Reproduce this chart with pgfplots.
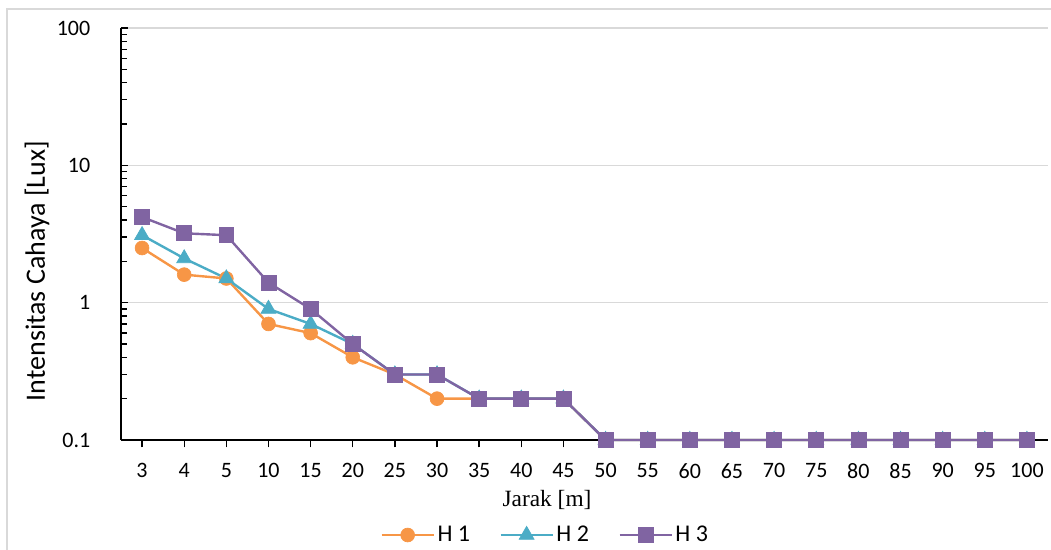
\documentclass[border=0pt]{standalone}
\usepackage{pgfplots}
\pgfplotsset{compat=1.18}
\usepackage{fontspec}
\setmainfont{Carlito}
\newfontfamily\serifjarak{Liberation Serif}

\definecolor{hone}{HTML}{F79646}
\definecolor{htwo}{HTML}{4BACC6}
\definecolor{hthree}{HTML}{8064A2}
\definecolor{gridgray}{HTML}{D9D9D9}

\begin{document}
\begin{tikzpicture}
\useasboundingbox (-90.75pt,-82.5pt) rectangle (697.5pt,330pt);
% chart frame (left and top edges)
\draw[gridgray,line width=1.1pt] (-85.5pt,-90pt) -- (-85.5pt,323.25pt) -- (705pt,323.25pt);
\begin{axis}[
  scale only axis,
  width=695.25pt, height=309pt,
  ymode=log, ymin=0.1, ymax=100,
  xmin=-0.5, xmax=21.5,
  clip=false,
  axis x line*=bottom, axis y line*=left,
  axis line style={black,line width=1.1pt,-},
  xtick={0,...,21},
  xticklabels={3,4,5,10,15,20,25,30,35,40,45,50,55,60,65,70,75,80,85,90,95,100},
  ytick={0.1,1,10,100},
  yticklabels={0.1,1,10,100},
  minor ytick={0.2,0.3,0.4,0.5,0.6,0.7,0.8,0.9,2,3,4,5,6,7,8,9,20,30,40,50,60,70,80,90},
  xtick align=outside, ytick align=inside,
  major tick length=5.5pt, minor tick length=4.5pt,
  tick style={black,line width=1pt},
  ymajorgrids, yminorgrids=false,
  major grid style={gridgray,line width=1.1pt},
  every tick label/.append style={font=\fontsize{16.5}{19}\selectfont},
  /pgf/number format/assume math mode=true,
  xticklabel style={yshift=-8.5pt},
  yticklabel style={xshift=-19.5pt},
  ylabel={Intensitas Cahaya [Lux]},
  ylabel style={at={(rel axis cs:-0.0906,0.41)},anchor=center,rotate=0,font=\fontsize{21}{25}\selectfont},
  xlabel={\serifjarak Jarak [m]},
  xlabel style={at={(rel axis cs:0.4596,-0.1456)},anchor=center,font=\fontsize{17.5}{21}\selectfont},
  legend columns=3,
  legend style={at={(rel axis cs:0.458,-0.2306)},anchor=center,draw=none,fill=none,
    font=\fontsize{18}{21}\selectfont,/tikz/every even column/.append style={column sep=20pt}},
  legend image code/.code={
    \draw[mark repeat=2,mark phase=2] plot coordinates {(0pt,0pt)(19.5pt,0pt)(39pt,0pt)};
  },
  every axis plot/.append style={line width=1.8pt},
]
\addplot[hone, mark=*, mark size=5.2pt, mark options={solid,fill=hone,draw=hone,line width=0.5pt}]
coordinates {(0,2.5)(1,1.6)(2,1.5)(3,0.7)(4,0.6)(5,0.4)(6,0.3)(7,0.2)(8,0.2)(9,0.2)(10,0.2)
(11,0.1)(12,0.1)(13,0.1)(14,0.1)(15,0.1)(16,0.1)(17,0.1)(18,0.1)(19,0.1)(20,0.1)(21,0.1)};
\addlegendentry{H 1}
\addplot[htwo, mark=triangle*, mark size=6.5pt, mark options={solid,fill=htwo,draw=htwo,line width=0.5pt}]
coordinates {(0,3.1)(1,2.1)(2,1.5)(3,0.9)(4,0.7)(5,0.5)(6,0.3)(7,0.3)(8,0.2)(9,0.2)(10,0.2)
(11,0.1)(12,0.1)(13,0.1)(14,0.1)(15,0.1)(16,0.1)(17,0.1)(18,0.1)(19,0.1)(20,0.1)(21,0.1)};
\addlegendentry{H 2}
\addplot[hthree, mark=square*, mark size=5.6pt, mark options={solid,fill=hthree,draw=hthree,line width=0.5pt}]
coordinates {(0,4.2)(1,3.2)(2,3.1)(3,1.4)(4,0.9)(5,0.5)(6,0.3)(7,0.3)(8,0.2)(9,0.2)(10,0.2)
(11,0.1)(12,0.1)(13,0.1)(14,0.1)(15,0.1)(16,0.1)(17,0.1)(18,0.1)(19,0.1)(20,0.1)(21,0.1)};
\addlegendentry{H 3}
\end{axis}
\end{tikzpicture}
\end{document}
